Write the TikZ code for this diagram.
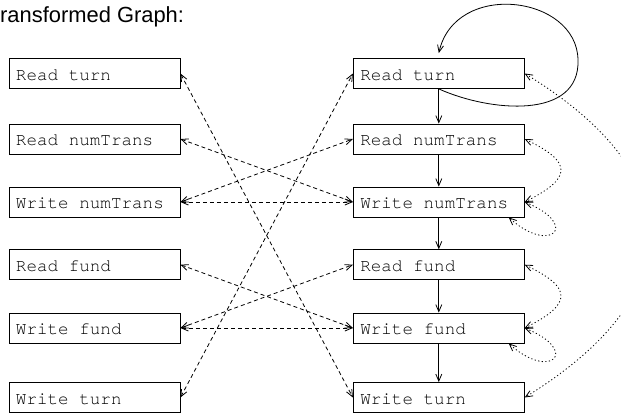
\documentclass[tikz,border=0pt]{standalone}
\usepackage{fontspec}
\usetikzlibrary{arrows.meta}
\newfontfamily\boxfamily{TeX Gyre Cursor}
\newfontfamily\titlefamily{Liberation Sans}
\tikzset{
  box/.style={draw, line width=0.8pt, minimum width=171pt, minimum height=30pt,
    inner xsep=7pt, inner ysep=0pt, text width=157pt, align=left,
    text height=13pt, text depth=0pt,
    font=\boxfamily\fontsize{17.6}{20}\selectfont,
    execute at begin node={\spaceskip=0.6em\relax}},
  edgebase/.style={line width=0.8pt, >={Straight Barb[length=7pt,width=6pt]}},
  solidedge/.style={edgebase, ->},
  dashedge/.style={edgebase, <->, dash pattern=on 4pt off 3pt},
  dotedge/.style={edgebase, <->, dash pattern=on 1.2pt off 2.4pt},
}
\begin{document}
\begin{tikzpicture}[x=1pt,y=-1pt]
\useasboundingbox (0,0) rectangle (621,416);
\node[anchor=base west, inner sep=0pt, font=\titlefamily\fontsize{21.9}{24}\selectfont] (title) at (0,22.7) {ransformed Graph:};
% left column
\node[box] (lt)  at (94.5,73.5)  {Read turn};
\node[box] (ln)  at (94.5,139)   {Read numTrans};
\node[box] (lwn) at (94.5,202)   {Write numTrans};
\node[box] (lf)  at (94.5,264.7) {Read fund};
\node[box] (lwf) at (94.5,328)   {Write fund};
\node[box] (lwt) at (94.5,397.5) {Write turn};
% right column
\node[box] (rt)  at (438.8,73.5)  {Read turn};
\node[box] (rn)  at (438.8,139)   {Read numTrans};
\node[box] (rwn) at (438.8,202)   {Write numTrans};
\node[box] (rf)  at (438.8,264.7) {Read fund};
\node[box] (rwf) at (438.8,328)   {Write fund};
\node[box] (rwt) at (438.8,397.5) {Write turn};
% solid chain
\draw[solidedge] (rt.south) -- (rn.north);
\draw[solidedge] (rn.south) -- (rwn.north);
\draw[solidedge] (rwn.south) -- (rf.north);
\draw[solidedge] (rf.south) -- (rwf.north);
\draw[solidedge] (rwf.south) -- (rwt.north);
% solid self loop
\coordinate (loopR) at (578,60);
\draw[solidedge] (rt.south) .. controls (490,112) and (580,120) .. (loopR)
  .. controls (577,-5) and (455,-20) .. ([yshift=5pt]rt.north);
% dashed cross edges
\draw[dashedge] (lt.east) -- (rwt.west);
\draw[dashedge] (lwt.east) -- (rt.west);
\draw[dashedge] (ln.east) -- (rwn.west);
\draw[dashedge] (lwn.east) -- (rn.west);
\draw[dashedge] (lwn.east) -- (rwn.west);
\draw[dashedge] (lf.east) -- (rwf.west);
\draw[dashedge] (lwf.east) -- (rf.west);
\draw[dashedge] (lwf.east) -- (rwf.west);
% dotted edges
\draw[dotedge] (rt.east) .. controls +(166,101.5) and +(166,-102.5) .. (rwt.east);
\draw[dotedge] (rn.east) .. controls +(48,23) and +(48,-24) .. (rwn.east);
\draw[dotedge] (rwn.east) .. controls +(56,23) and +(42,38) .. ([xshift=-16pt]rwn.south east);
\draw[dotedge] (rf.east) .. controls +(48,23) and +(48,-24) .. (rwf.east);
\draw[dotedge] (rwf.east) .. controls +(56,23) and +(42,38) .. ([xshift=-16pt]rwf.south east);
\end{tikzpicture}
\end{document}
